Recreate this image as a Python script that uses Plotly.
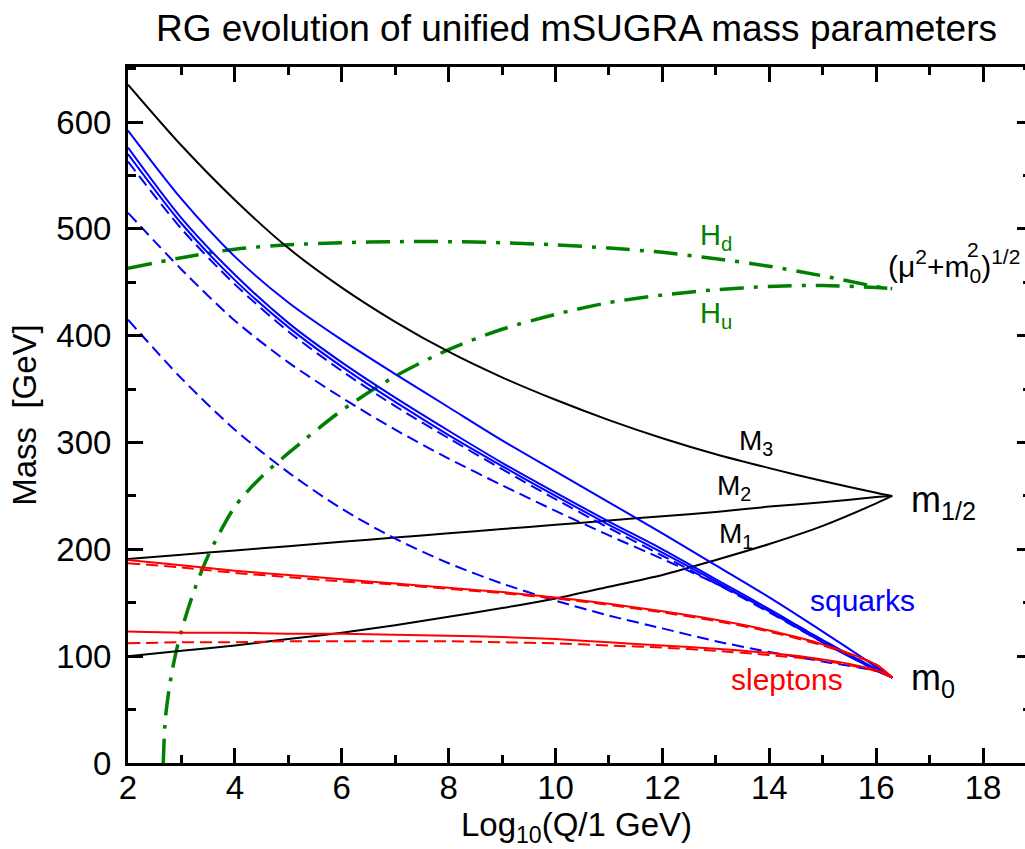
import plotly.graph_objects as go

# ---------------- data ----------------
x = [2, 3, 4, 5, 6, 7, 8, 9, 10, 11, 12, 13, 14, 15, 16, 16.3]

M3 = [635, 578, 527, 482, 445, 413, 385, 361, 340, 321, 304, 289, 276, 264, 253, 250]
M2 = [191, 195, 199, 203, 207, 211, 215, 219, 223, 227, 231, 235, 240, 244, 249, 250]
M1 = [100, 105, 110, 116, 122, 129, 137, 145, 154, 165, 176, 190, 205, 222, 243, 250]

sq_solid_1 = [592, 528, 474, 431, 396, 364, 333, 302, 273, 244, 215, 185, 155, 123, 90, 80]
sq_solid_2 = [576, 510, 457, 412, 375, 342, 311, 281, 253, 226, 200, 172, 144, 115, 88, 80]
sq_solid_3 = [570, 505, 452, 408, 371, 338, 307, 278, 250, 223, 197, 170, 142, 113, 87, 80]
sq_dash_1 = [563, 500, 448, 404, 367, 334, 304, 275, 247, 220, 194, 168, 141, 113, 87, 80]
sq_dash_2 = [515, 462, 414, 375, 342, 312, 285, 260, 236, 213, 191, 168, 143, 115, 87, 80]
sq_dash_3 = [415, 360, 312, 272, 238, 210, 187, 168, 152, 138, 126, 114, 104, 95, 86, 80]

sl_solid_1 = [190, 185, 180, 176, 172, 168, 164, 160, 155, 149, 142, 134, 124, 111, 92, 80]
sl_dash_1 = [187, 183, 178, 174, 170, 167, 163, 159, 154, 148, 141, 133, 123, 110, 92, 80]
sl_solid_2 = [123, 122, 122, 121, 121, 120, 119, 118, 116, 113, 110, 107, 103, 97, 87, 80]
sl_dash_2 = [112, 113, 113, 114, 114, 114, 114, 113, 112, 110, 108, 105, 101, 96, 86, 80]

Hd = [463, 473, 481, 485, 487, 488, 488, 487, 485, 482, 478, 472, 465, 456, 446, 444]

x_hu = [2.66, 2.7, 2.8, 2.9, 3.0, 3.25, 3.5, 4, 4.5, 5, 6, 7, 8, 9, 10, 11, 12, 13, 14, 15, 16, 16.3]
Hu = [0, 42, 79, 104, 124, 163, 194, 240, 268, 290, 330, 362, 387, 406, 420, 431, 438, 443, 446, 447, 445, 444]

x_ticks = [2, 4, 6, 8, 10, 12, 14, 16, 18]
y_ticks = [0, 100, 200, 300, 400, 500, 600]

# ---------------- styling ----------------
FONT = "Liberation Sans, Arial, sans-serif"
BLUE = "#0000ff"
RED = "#ff0000"
GREEN = "#008000"
BLACK = "#000000"

X_RANGE = [2, 18.785]
Y_RANGE = [0, 651.5]

fig = go.Figure()


def add(xs, ys, color, dash="solid", width=2.0, shape="spline"):
    fig.add_trace(go.Scatter(x=xs, y=ys, mode="lines",
                             line=dict(color=color, width=width, dash=dash, shape=shape, smoothing=0.8),
                             showlegend=False, hoverinfo="skip"))


# green Higgs curves (drawn first)
add(x, Hd, GREEN, dash="24px,10px,4px,10px", width=3.5)
add(x_hu, Hu, GREEN, dash="24px,10px,4px,10px", width=3.5)

# gauginos
add(x, M3, BLACK)
add(x, M2, BLACK)
add(x, M1, BLACK)

# squarks
for ys in (sq_solid_1, sq_solid_2, sq_solid_3):
    add(x, ys, BLUE)
for ys in (sq_dash_1, sq_dash_2, sq_dash_3):
    add(x, ys, BLUE, dash="12px,6px")

# sleptons
add(x, sl_solid_1, RED)
add(x, sl_solid_2, RED)
add(x, sl_dash_1, RED, dash="12px,6px")
add(x, sl_dash_2, RED, dash="12px,6px")

# invisible trace for the right-hand tick axis
fig.add_trace(go.Scatter(x=[2], y=[0], yaxis="y2", mode="markers",
                         marker=dict(opacity=0), showlegend=False, hoverinfo="skip"))

annos = [
    dict(x=13.40, y=300, text="M<sub>3</sub>", size=28, color=BLACK, xa="left"),
    dict(x=12.98, y=258, text="M<sub>2</sub>", size=28, color=BLACK, xa="left"),
    dict(x=13.02, y=213, text="M<sub>1</sub>", size=28, color=BLACK, xa="left"),
    dict(x=16.61, y=244, text="m<sub>1/2</sub>", size=36, color=BLACK, xa="left"),
    dict(x=16.61, y=78, text="m<sub>0</sub>", size=36, color=BLACK, xa="left"),
    dict(x=15.74, y=152, text="squarks", size=30, color=BLUE, xa="center"),
    dict(x=14.33, y=78, text="sleptons", size=30, color=RED, xa="center"),
    dict(x=12.67, y=492, text="H<sub>d</sub>", size=29, color=GREEN, xa="left"),
    dict(x=12.67, y=419, text="H<sub>u</sub>", size=29, color=GREEN, xa="left"),
    dict(x=16.18, y=465, text="(μ<sup>2</sup>+m<sub>0</sub>)<sup>1/2</sup>", size=30, color=BLACK, xa="left"),
    dict(x=17.81, y=481, text="2", size=21, color=BLACK, xa="center"),
]
for a in annos:
    fig.add_annotation(x=a["x"], y=a["y"], xref="x", yref="y", text=a["text"], showarrow=False,
                       xanchor=a["xa"], yanchor="middle",
                       font=dict(family=FONT, size=a["size"], color=a["color"]))

fig.update_layout(
    width=1025, height=849,
    margin=dict(l=128, r=0, t=67, b=86),
    paper_bgcolor="white", plot_bgcolor="white",
    font=dict(family=FONT, color=BLACK),
    title=dict(text="RG evolution of unified mSUGRA mass parameters",
               font=dict(family=FONT, size=37, color=BLACK),
               x=0.5, xref="paper", xanchor="center", y=0.967, yanchor="middle"),
    xaxis=dict(range=X_RANGE, tickvals=x_ticks, ticktext=[str(v) for v in x_ticks],
               ticks="inside", ticklen=15, tickwidth=3, tickcolor=BLACK,
               minor=dict(dtick=1, tick0=2, ticks="inside", ticklen=8, tickwidth=3, tickcolor=BLACK),
               showline=True, linewidth=3, linecolor=BLACK, mirror="ticks",
               showgrid=False, zeroline=False, ticklabelstandoff=-7,
               tickfont=dict(family=FONT, size=33, color=BLACK),
               title=dict(text="Log<sub>10</sub>(Q/1 GeV)", font=dict(family=FONT, size=33, color=BLACK),
                          standoff=0)),
    yaxis=dict(range=Y_RANGE, tickvals=y_ticks, ticktext=[str(v) for v in y_ticks],
               ticks="inside", ticklen=15, tickwidth=3, tickcolor=BLACK,
               minor=dict(dtick=50, tick0=0, ticks="inside", ticklen=8, tickwidth=3, tickcolor=BLACK),
               showline=True, linewidth=3, linecolor=BLACK, mirror=False,
               showgrid=False, zeroline=False, ticklabelstandoff=7,
               tickfont=dict(family=FONT, size=33, color=BLACK),
               title=dict(text="Mass  [GeV]", font=dict(family=FONT, size=33, color=BLACK),
                          standoff=10)),
    yaxis2=dict(range=Y_RANGE, overlaying="y", side="right", tickvals=y_ticks,
                showticklabels=False, ticks="inside", ticklen=8, tickwidth=3, tickcolor=BLACK,
                minor=dict(dtick=50, tick0=0, ticks="inside", ticklen=2, tickwidth=3, tickcolor=BLACK),
                showline=False, showgrid=False, zeroline=False),
)

fig.write_html("out.html", config=dict(displayModeBar=False),
               post_script="document.body.style.margin='0px';")
